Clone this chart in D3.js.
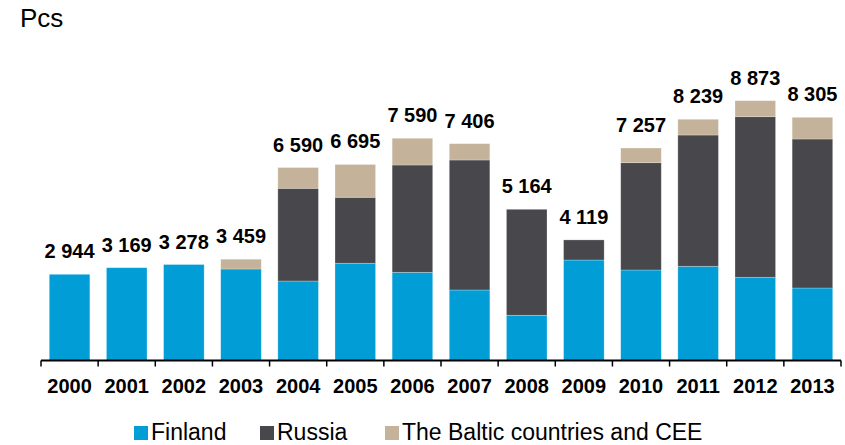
<!DOCTYPE html>
<html>
<head>
<meta charset="utf-8">
<script src="https://cdn.jsdelivr.net/npm/d3@7"></script>
<style>
    body { margin: 0; background: #fff; }
    text { font-family: Arial, "Liberation Sans", sans-serif; }
</style>
</head>
<body>
<svg id="chart" width="845" height="445"></svg>
<script>
// data (pcs)
var years = ["2000", "2001", "2002", "2003", "2004", "2005", "2006", "2007", "2008", "2009", "2010", "2011", "2012", "2013"];
var finland = [2944, 3169, 3278, 3125, 2715, 3320, 3012, 2408, 1544, 3432, 3091, 3217, 2841, 2476];
var russia = [0, 0, 0, 0, 3166, 2254, 3665, 4440, 3620, 687, 3665, 4484, 5486, 5089];
var baltic = [0, 0, 0, 334, 709, 1121, 913, 558, 0, 0, 501, 538, 546, 740];
var totals = [2944, 3169, 3278, 3459, 6590, 6695, 7590, 7406, 5164, 4119, 7257, 8239, 8873, 8305];
var seriesNames = ["Finland", "Russia", "The Baltic countries and CEE"];
var colors = ["#009dd6", "#48474c", "#c4b39a"];

var svg = d3.select("#chart"),
    plotLeft = 41, plotRight = 841, baseline = 360.5, plotTop = 67.7;

var x = d3.scaleBand()
    .domain(years)
    .range([plotLeft, plotRight])
    .paddingInner(0.29)
    .paddingOuter(0.145);

var y = d3.scaleLinear()
    .domain([0, 10000])
    .range([baseline, plotTop]);

// build rows for the stack
var rows = years.map(function (yr, i) {
    return { year: yr, Finland: finland[i], Russia: russia[i], "The Baltic countries and CEE": baltic[i], total: totals[i] };
});

var layers = d3.stack().keys(seriesNames)(rows);

// unit label
svg.append("text")
    .attr("x", 20)
    .attr("y", 27)
    .attr("font-size", 26)
    .attr("fill", "#000")
    .text("Pcs");

// the bars
svg.append("g").selectAll("g")
    .data(layers)
    .enter().append("g")
    .attr("fill", function (d, i) { return colors[i]; })
    .selectAll("rect")
    .data(function (d) { return d; })
    .enter().append("rect")
    .attr("x", function (d) { return x(d.data.year); })
    .attr("width", x.bandwidth())
    .attr("y", function (d) { return y(d[1]); })
    .attr("height", function (d) { return y(d[0]) - y(d[1]); })
    .attr("stroke", "#fff")
    .attr("stroke-opacity", 0.35)
    .attr("stroke-width", 0.75);

// totals on top
svg.append("g").selectAll("text")
    .data(rows)
    .enter().append("text")
    .attr("x", function (d) { return x(d.year) + x.bandwidth() / 2; })
    .attr("y", function (d) { return y(d.total) - 16; })
    .attr("text-anchor", "middle")
    .attr("font-size", 20)
    .attr("font-weight", "bold")
    .attr("fill", "#000")
    .text(function (d) { return d3.format(",")(d.total).replace(",", " "); });

// x axis with ticks between the categories
var axis = svg.append("g")
    .attr("transform", "translate(0," + baseline + ")");

axis.append("line")
    .attr("x1", plotLeft)
    .attr("x2", plotRight)
    .attr("stroke", "#000")
    .attr("stroke-width", 2);

axis.selectAll(".tick")
    .data(years.concat(["end"]))
    .enter().append("line")
    .attr("class", "tick")
    .attr("x1", function (d, i) { return i < years.length ? x(d) - x.step() * x.paddingOuter() : plotRight; })
    .attr("x2", function (d, i) { return i < years.length ? x(d) - x.step() * x.paddingOuter() : plotRight; })
    .attr("y1", 0)
    .attr("y2", 6)
    .attr("stroke", "#000")
    .attr("stroke-width", 1.5);

axis.selectAll(".lbl")
    .data(years)
    .enter().append("text")
    .attr("class", "lbl")
    .attr("x", function (d) { return x(d) + x.bandwidth() / 2; })
    .attr("y", 32)
    .attr("text-anchor", "middle")
    .attr("font-size", 20)
    .attr("font-weight", "bold")
    .attr("fill", "#000")
    .text(function (d) { return d; });

// legend
var legendX = [134, 260, 385];
var legend = svg.append("g").selectAll("g")
    .data(seriesNames)
    .enter().append("g")
    .attr("transform", function (d, i) { return "translate(" + legendX[i] + ",426)"; });

legend.append("rect")
    .attr("width", 14)
    .attr("height", 14)
    .attr("fill", function (d, i) { return colors[i]; });

legend.append("text")
    .attr("x", 17)
    .attr("y", 14)
    .attr("font-size", 23)
    .attr("fill", "#000")
    .text(function (d) { return d; });
</script>
</body>
</html>
